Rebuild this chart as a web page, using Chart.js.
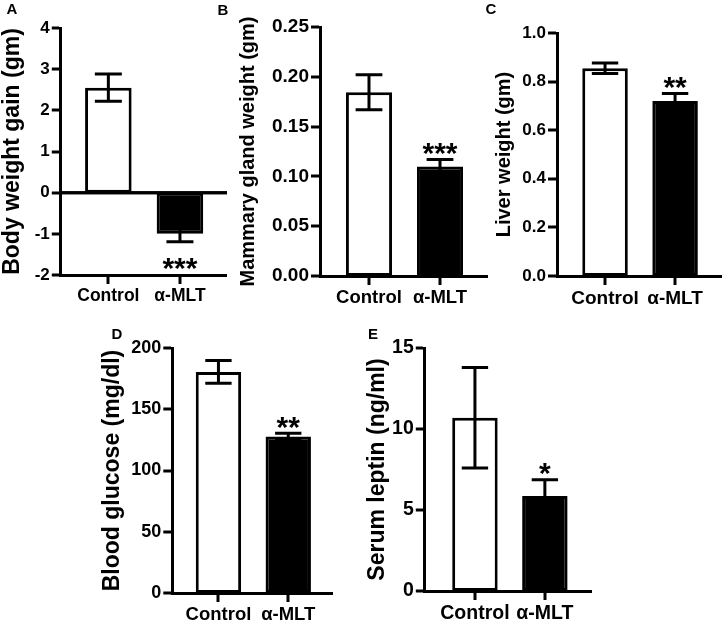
<!DOCTYPE html>
<html>
<head>
<meta charset="utf-8">
<script src="https://cdn.jsdelivr.net/npm/chart.js@4.4.1/dist/chart.umd.min.js"></script>
<style>
  body { margin: 0; background: #fff; }
  #fig { position: relative; width: 723px; height: 624px; overflow: hidden; }
  #fig canvas { position: absolute; }
  .letter { position: absolute; transform: translate(-50%, -50%); line-height: 1;
            font: bold 15px 'Liberation Sans', Arial, sans-serif; color: #000; }
</style>
</head>
<body>
<div id="fig"></div>
<script>
// Data (mean, error bar half-height)
const groups = ['Control', 'α-MLT'];
const panelLetters = ['A', 'B', 'C', 'D', 'E'];
const panelTitles = ['Body weight gain (gm)', 'Mammary gland weight (gm)', 'Liver weight (gm)',
                     'Blood glucose (mg/dl)', 'Serum leptin (ng/ml)'];

const bodyWeightGain = [2.55, -1.0];
const bodyWeightGainErr = [0.33, 0.19];
const mammaryWeight = [0.1845, 0.110];
const mammaryWeightErr = [0.0175, 0.007];
const liverWeight = [0.855, 0.72];
const liverWeightErr = [0.022, 0.031];
const bloodGlucose = [180.5, 127.7];
const bloodGlucoseErr = [9.3, 2.7];
const serumLeptin = [10.7, 5.86];
const serumLeptinErr = [3.1, 1.0];

const significance = [['', '***'], ['', '***'], ['', '**'], ['', '**'], ['', '*']];

const yTicksA = [-2, -1, 0, 1, 2, 3, 4];
const yTicksB = [0, 0.05, 0.10, 0.15, 0.20, 0.25];
const yTicksC = [0, 0.2, 0.4, 0.6, 0.8, 1.0];
const yTicksD = [0, 50, 100, 150, 200];
const yTicksE = [0, 5, 10, 15];
const yTickDecimals = [0, 2, 1, 0, 0];

// where each panel sits on the page
const geometry = [
  { L: 61,    T: 28,  R: 227, B: 275, titleX: 13,  titleSize: 23, tickSize: 17,   catSize: 17.5, xMin: -0.664, xMax: 1.657, lx: 12,  ly: 8 },
  { L: 320,   T: 27,  R: 488, B: 276, titleX: 248, titleSize: 20, tickSize: 19,   catSize: 18.5, xMin: -0.69,  xMax: 1.676, lx: 223, ly: 9 },
  { L: 557,   T: 33,  R: 722, B: 276, titleX: 504, titleSize: 20, tickSize: 17,   catSize: 19,   xMin: -0.686, xMax: 1.67,  lx: 491, ly: 8 },
  { L: 172.5, T: 348, R: 333, B: 593, titleX: 113, titleSize: 23, tickSize: 18,   catSize: 18.5, xMin: -0.661, xMax: 1.641, lx: 117, ly: 333 },
  { L: 425,   T: 348, R: 592, B: 591, titleX: 378, titleSize: 23, tickSize: 19.5, catSize: 19.5, xMin: -0.717, xMax: 1.674, lx: 373, ly: 333 }
];

const panelValues = [bodyWeightGain, mammaryWeight, liverWeight, bloodGlucose, serumLeptin];
const panelErrors = [bodyWeightGainErr, mammaryWeightErr, liverWeightErr, bloodGlucoseErr, serumLeptinErr];
const panelTicks = [yTicksA, yTicksB, yTicksC, yTicksD, yTicksE];

Chart.defaults.font.family = "'Liberation Sans', Arial, Helvetica, sans-serif";
Chart.defaults.font.weight = 'bold';
Chart.defaults.color = '#000';

// zero line (panel A), error bars and significance stars, placed through the chart's scales
const errorBarPlugin = {
  id: 'errorBars',
  beforeDatasetsDraw(chart, args, opts) {
    if (!opts.zeroLine) return;
    const ctx = chart.ctx;
    const y0 = chart.scales.y.getPixelForValue(0);
    ctx.save();
    ctx.strokeStyle = '#000';
    ctx.lineWidth = 3;
    ctx.beginPath();
    ctx.moveTo(chart.chartArea.left, y0);
    ctx.lineTo(chart.chartArea.right, y0);
    ctx.stroke();
    ctx.restore();
  },
  afterDatasetsDraw(chart, args, opts) {
    const ctx = chart.ctx;
    const y = chart.scales.y;
    const meta = chart.getDatasetMeta(0);
    const values = chart.data.datasets[0].data;
    ctx.save();
    ctx.strokeStyle = '#000';
    ctx.fillStyle = '#000';
    ctx.lineWidth = 3;
    if (opts.zeroLine) {
      const y0 = y.getPixelForValue(0);
      ctx.beginPath();
      ctx.moveTo(chart.chartArea.left, y0);
      ctx.lineTo(chart.chartArea.right, y0);
      ctx.stroke();
    }
    meta.data.forEach((bar, i) => {
      const v = values[i].y, e = opts.errors[i];
      const yHi = y.getPixelForValue(v + e);
      const yLo = y.getPixelForValue(v - e);
      const cap = bar.width * 0.58 / 2;
      ctx.beginPath();
      ctx.moveTo(bar.x, yHi); ctx.lineTo(bar.x, yLo);
      ctx.moveTo(bar.x - cap, yHi); ctx.lineTo(bar.x + cap, yHi);
      ctx.moveTo(bar.x - cap, yLo); ctx.lineTo(bar.x + cap, yLo);
      ctx.stroke();
      const star = opts.stars[i];
      if (star) {
        const size = 30;
        ctx.font = 'bold ' + size + 'px ' + Chart.defaults.font.family;
        ctx.textAlign = 'center';
        ctx.textBaseline = 'alphabetic';
        const centre = v >= 0 ? yHi - 14 : yLo + 19;
        ctx.fillText(star, bar.x, centre + 0.58 * size);
      }
    });
    ctx.restore();
  }
};

const fig = document.getElementById('fig');

geometry.forEach((g, p) => {
  const cLeft = g.titleX - 0.6 * g.titleSize;
  const cTop = g.T - 14;
  const xAxisH = 40;
  const canvas = document.createElement('canvas');
  canvas.width = Math.round(g.R + 3 - cLeft);
  canvas.height = Math.round(g.B - cTop + xAxisH);
  canvas.style.left = cLeft + 'px';
  canvas.style.top = cTop + 'px';
  fig.appendChild(canvas);

  const letter = document.createElement('div');
  letter.className = 'letter';
  letter.textContent = panelLetters[p];
  letter.style.left = g.lx + 'px';
  letter.style.top = g.ly + 'px';
  fig.appendChild(letter);

  const ticks = panelTicks[p];

  new Chart(canvas, {
    type: 'bar',
    data: {
      datasets: [{
        data: panelValues[p].map((v, i) => ({ x: i, y: v })),
        backgroundColor: ['#fff', '#000'],
        borderColor: '#000',
        borderWidth: 3,
        borderSkipped: false,
        barPercentage: 0.65,
        categoryPercentage: 1
      }]
    },
    options: {
      responsive: false,
      animation: false,
      devicePixelRatio: 1,
      layout: { padding: { top: 14, right: 3, left: 0, bottom: 0 } },
      plugins: {
        legend: { display: false },
        tooltip: { enabled: false },
        errorBars: { errors: panelErrors[p], stars: significance[p], zeroLine: ticks[0] < 0 }
      },
      scales: {
        x: {
          type: 'linear',
          offset: false,
          min: g.xMin,
          max: g.xMax,
          afterBuildTicks: s => { s.ticks = groups.map((_, i) => ({ value: i })); },
          afterFit: s => { s.height = xAxisH; },
          ticks: {
            callback: v => groups[v],
            autoSkip: false, maxRotation: 0, padding: 2,
            font: { size: g.catSize, weight: 'bold' }
          },
          grid: { offset: false, drawOnChartArea: false, lineWidth: 0, tickLength: 9, tickWidth: 3, tickColor: '#000', color: '#000' },
          border: { color: '#000', width: 3 }
        },
        y: {
          min: ticks[0],
          max: ticks[ticks.length - 1],
          afterBuildTicks: s => { s.ticks = ticks.map(v => ({ value: v })); },
          afterFit: s => { s.width = g.L - cLeft; },
          ticks: {
            callback: v => Number(v).toFixed(yTickDecimals[p]),
            padding: 2,
            font: { size: g.tickSize, weight: 'bold' }
          },
          grid: {
            drawOnChartArea: false,
            color: '#000',
            lineWidth: 0,
            tickLength: 9, tickWidth: 3, tickColor: '#000'
          },
          border: { color: '#000', width: 3 },
          title: {
            display: true,
            text: panelTitles[p],
            padding: 0,
            font: { size: g.titleSize, weight: 'bold' }
          }
        }
      }
    },
    plugins: [errorBarPlugin]
  });
});
</script>
</body>
</html>
